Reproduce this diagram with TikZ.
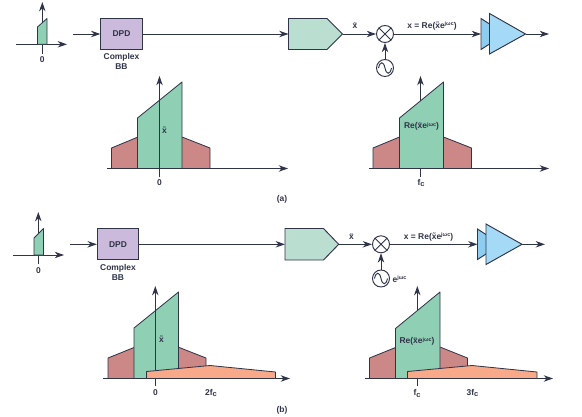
\documentclass[tikz,border=0pt]{standalone}
\usepackage{fontspec}
\setmainfont{Liberation Sans}
\usepackage{tikz}
\usetikzlibrary{calc,arrows.meta,positioning}
\definecolor{ink}{HTML}{2F3448}
\definecolor{dpdfill}{HTML}{CBBADB}
\definecolor{filterfill}{HTML}{BADFD0}
\definecolor{greenfill}{HTML}{8FCFB4}
\definecolor{redfill}{HTML}{CC8787}
\definecolor{orangefill}{HTML}{F8A98A}
\definecolor{ampfill}{HTML}{A5DAF6}
\definecolor{ampback}{HTML}{8FCDF0}
\tikzset{
  lbl/.style={font=\bfseries\fontsize{7.2}{8.5}\selectfont,text=ink,inner sep=0pt},
  dpdbox/.style={draw=ink,fill=dpdfill,line width=0.8pt,minimum width=1.24cm,minimum height=0.93cm,inner sep=0pt,font=\bfseries\fontsize{7.2}{8.5}\selectfont,text=ink},
  ring/.style={draw=ink,circle,fill=white,line width=0.8pt,minimum size=0.51cm,inner sep=0pt},
  sig/.style={draw=ink,line width=0.8pt},
  flow/.style={-{Stealth[length=8pt,width=5.5pt]},ink,line width=0.8pt},
  spec/.style={draw=ink,line width=0.7pt,line join=round}
}
\newcommand{\phasor}{e\raisebox{2.4pt}{\fontsize{4.6}{5}\selectfont jωc}}
\newcommand{\carrier}{f\raisebox{-1.4pt}{\fontsize{6.4}{7}\selectfont c}}
\begin{document}
\begin{tikzpicture}[x=0.03cm,y=-0.03cm,>=Stealth]
  \useasboundingbox (0,0) rectangle (582,417);

  % (a) chain
  \coordinate (atl) at (16,44.3);
  \coordinate (atr) at (67,44.3);
  \coordinate (atb) at (42.3,54);
  \coordinate (att) at (42.3,2);
  \draw[flow] (atl) -- (atr);
  \draw[flow] (atb) -- (att);
  \draw[spec,fill=greenfill] (37.5,44.3) -- (37.5,27) -- (47,18.5) -- (47,44.3) -- cycle;
  \node[lbl] (azero) at (42.3,59.5) {0};

  \coordinate (ain) at (73,34);
  \node[dpdbox] (adpd) at (121.5,34) {DPD};
  \draw[flow] (ain) -- (adpd);
  \node[lbl,align=center,below=3pt of adpd] (abb) {Complex\\BB};
  \coordinate (afilt) at (288.5,34);
  \coordinate (afiltout) at (342.5,34);
  \draw[sig,fill=filterfill] (288.5,18.5) -- (327,18.5) -- (afiltout) -- (327,49.5) -- (288.5,49.5) -- cycle;
  \draw[flow] (adpd) -- (afilt);
  \node[ring] (amix) at (385,34) {};
  \draw[ink,line width=0.8pt] (amix.north west) -- (amix.south east) (amix.north east) -- (amix.south west);
  \draw[flow] (afiltout) -- (amix);
  \node[lbl] (axt) at (355,25.5) {\~{x}};
  \node[ring] (aosc) at (385,68) {};
  \draw[ink,line width=0.8pt] ($(aosc)+(-6.5,0)$) .. controls ($(aosc)+(-5,-7)$) and ($(aosc)+(-1.5,-7)$) .. (aosc.center) .. controls ($(aosc)+(1.5,7)$) and ($(aosc)+(5,7)$) .. ($(aosc)+(6.5,0)$);
  \draw[flow] (aosc) -- (amix);
  \node[lbl] (aeq) at (432,26) {x = Re(\~{x}\phasor)};
  \coordinate (aamp) at (481,34);
  \coordinate (aampout) at (525.5,34);
  \coordinate (aout) at (549,34);
  \draw[sig,fill=ampback] (481,18.5) -- (505,34) -- (481,49.5) -- cycle;
  \draw[sig,fill=ampfill] (489.5,13.5) -- (aampout) -- (489.5,54) -- cycle;
  \draw[flow] (amix) -- (aamp);
  \draw[flow] (aampout) -- (aout);

  % (a) spectra
  \draw[spec,fill=redfill] (111.5,168.5) -- (111.5,148) -- (138,137) -- (182,137) -- (210,148) -- (210,168.5) -- cycle;
  \draw[spec,fill=greenfill] (137.5,168.5) -- (137.5,118) -- (182,82) -- (182,168.5) -- cycle;
  \coordinate (axl) at (107,168.5);
  \coordinate (axr) at (288,168.5);
  \coordinate (ayb) at (159.5,177);
  \coordinate (ayt) at (159.5,76);
  \draw[flow] (axl) -- (axr);
  \draw[flow] (ayb) -- (ayt);
  \node[lbl,fill=greenfill] (axlab) at (164.5,130) {\~{x}};
  \node[lbl] (azerob) at (159.5,182.5) {0};

  \draw[spec,fill=redfill] (373,168.5) -- (373,148) -- (399.5,137) -- (443.5,137) -- (471.5,148) -- (471.5,168.5) -- cycle;
  \coordinate (bxl) at (369,168.5);
  \coordinate (bxr) at (549,168.5);
  \coordinate (byb) at (420.5,177);
  \coordinate (byt) at (420.5,76);
  \draw[flow] (bxl) -- (bxr);
  \draw[flow] (byb) -- (byt);
  \draw[spec,fill=greenfill] (399.5,168.5) -- (399.5,118) -- (443.5,82) -- (443.5,168.5) -- cycle;
  \node[lbl] (arelab) at (421.5,126.5) {Re(\~{x}\phasor)};
  \node[lbl] (afc) at (421,183) {\carrier};
  \node[lbl] (acap) at (282,199.5) {(a)};

  % (b) chain
  \coordinate (ctl) at (13,255);
  \coordinate (ctr) at (64,255);
  \coordinate (ctb) at (38.3,264);
  \coordinate (ctt) at (38.3,212);
  \draw[flow] (ctl) -- (ctr);
  \draw[flow] (ctb) -- (ctt);
  \draw[spec,fill=greenfill] (34,255) -- (34,238) -- (43.5,228.5) -- (43.5,255) -- cycle;
  \node[lbl] (czero) at (38.5,270.5) {0};

  \coordinate (cin) at (70,244.3);
  \node[dpdbox] (cdpd) at (118,244.3) {DPD};
  \draw[flow] (cin) -- (cdpd);
  \node[lbl,align=center,below=3pt of cdpd] (cbb) {Complex\\BB};
  \coordinate (cfilt) at (285,244.3);
  \coordinate (cfiltout) at (338.7,244.3);
  \draw[sig,fill=filterfill] (285,228.5) -- (323.5,228.5) -- (cfiltout) -- (323.5,260) -- (285,260) -- cycle;
  \draw[flow] (cdpd) -- (cfilt);
  \node[ring] (cmix) at (381,244.3) {};
  \draw[ink,line width=0.8pt] (cmix.north west) -- (cmix.south east) (cmix.north east) -- (cmix.south west);
  \draw[flow] (cfiltout) -- (cmix);
  \node[lbl] (cxt) at (351.5,236.5) {\~{x}};
  \node[ring] (cosc) at (381,278.5) {};
  \draw[ink,line width=0.8pt] ($(cosc)+(-6.5,0)$) .. controls ($(cosc)+(-5,-7)$) and ($(cosc)+(-1.5,-7)$) .. (cosc.center) .. controls ($(cosc)+(1.5,7)$) and ($(cosc)+(5,7)$) .. ($(cosc)+(6.5,0)$);
  \draw[flow] (cosc) -- (cmix);
  \node[lbl] (cphas) at (399.5,279) {\phasor};
  \node[lbl] (ceq) at (428.5,237) {x = Re(\~{x}\phasor)};
  \coordinate (camp) at (477.5,244.3);
  \coordinate (campout) at (522,244.3);
  \coordinate (cout) at (545,244.3);
  \draw[sig,fill=ampback] (477.5,229) -- (501,244.3) -- (477.5,259.5) -- cycle;
  \draw[sig,fill=ampfill] (486,224) -- (campout) -- (486,264.5) -- cycle;
  \draw[flow] (cmix) -- (camp);
  \draw[flow] (campout) -- (cout);

  % (b) spectra
  \draw[spec,fill=redfill] (108,378.5) -- (108,358) -- (134,347.5) -- (178,347) -- (206,358) -- (206,378.5) -- cycle;
  \coordinate (cxl) at (103,378.5);
  \coordinate (cxr) at (290,378.5);
  \coordinate (cyb) at (155.3,386);
  \coordinate (cyt) at (155.3,286);
  \draw[spec,fill=greenfill] (134,378.5) -- (134,328) -- (178.5,292) -- (178.5,378.5) -- cycle;
  \draw[flow] (cxl) -- (cxr);
  \draw[flow] (cyb) -- (cyt);
  \draw[spec,fill=orangefill] (146.5,378.5) -- (146.5,371.5) -- (210,365.5) -- (275.5,372) -- (275.5,378.5) -- cycle;
  \node[lbl,fill=greenfill] (cxlab) at (161.5,339) {\~{x}};
  \node[lbl] (czerob) at (155.5,392.5) {0};
  \node[lbl] (ctwo) at (211,393) {2\carrier};

  \draw[spec,fill=redfill] (369.5,378.5) -- (369.5,358) -- (395.5,347.5) -- (440,347) -- (467.5,358) -- (467.5,378.5) -- cycle;
  \coordinate (dxl) at (365,378.5);
  \coordinate (dxr) at (553,378.5);
  \coordinate (dyb) at (417.3,386);
  \coordinate (dyt) at (417.3,286);
  \draw[flow] (dxl) -- (dxr);
  \draw[flow] (dyb) -- (dyt);
  \draw[spec,fill=greenfill] (395.5,378.5) -- (395.5,328.5) -- (440,292) -- (440,378.5) -- cycle;
  \draw[spec,fill=orangefill] (407.5,378.5) -- (407.5,371.5) -- (472,365.5) -- (537,372) -- (537,378.5) -- cycle;
  \node[lbl] (crelab) at (417,341.5) {Re(\~{x}\phasor)};
  \node[lbl] (cfc) at (417,393.5) {\carrier};
  \node[lbl] (cthree) at (472.5,393) {3\carrier};
  \node[lbl] (ccap) at (282,410) {(b)};
\end{tikzpicture}
\end{document}
